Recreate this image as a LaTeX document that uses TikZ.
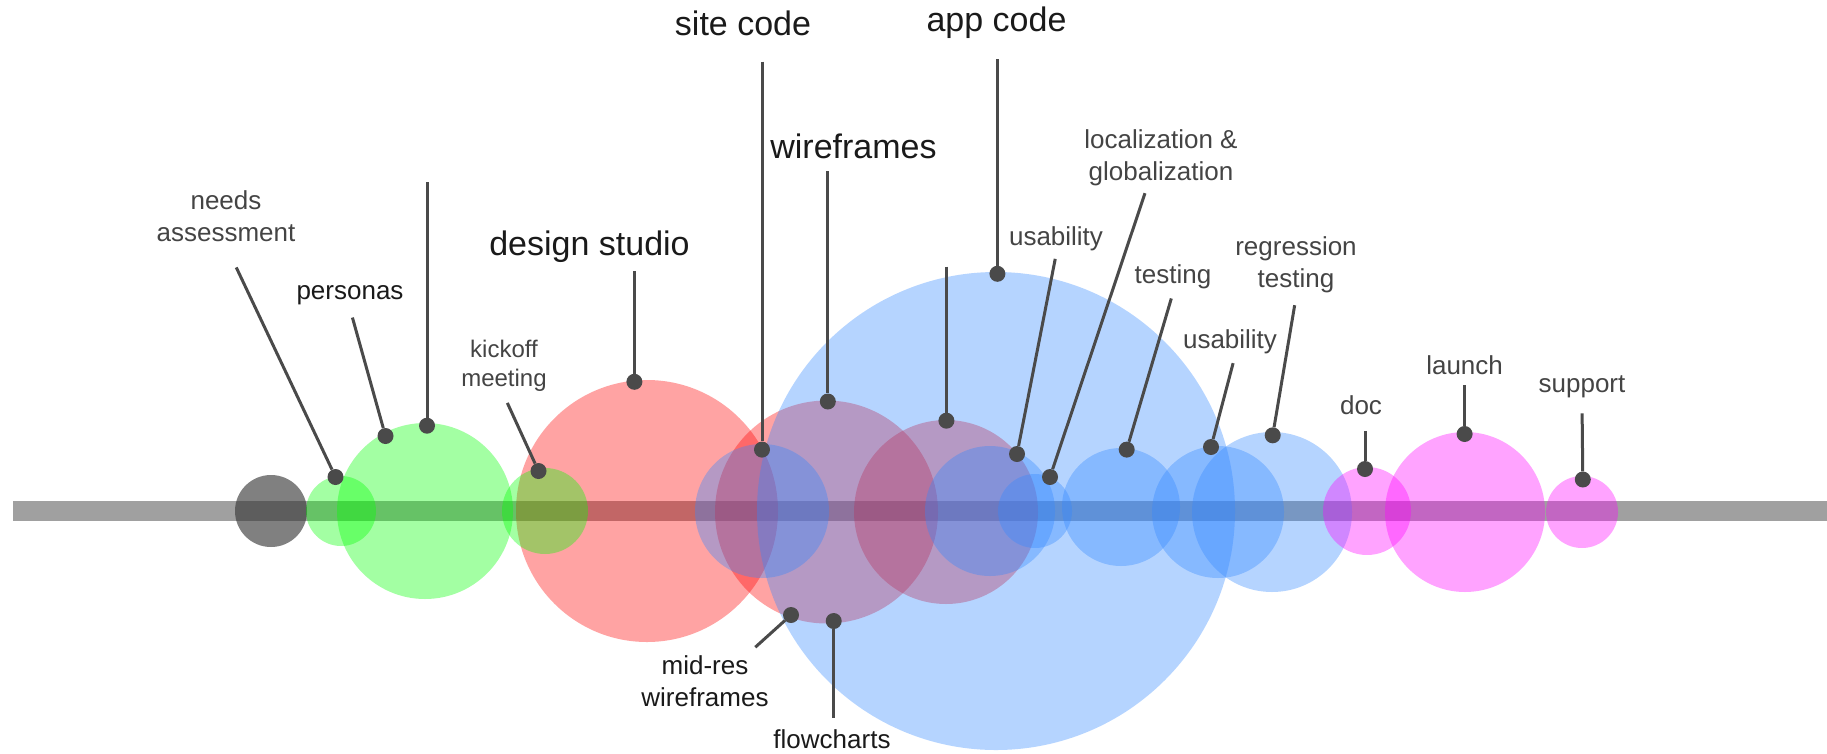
\documentclass[tikz,border=0pt]{standalone}
\usepackage{fontspec}
\setmainfont{Liberation Sans}
\definecolor{bargray}{HTML}{A0A0A0}
\definecolor{leadgray}{HTML}{4A4A4A}
\definecolor{softtext}{HTML}{444444}
\definecolor{hardtext}{HTML}{1A1A1A}
\definecolor{appblue}{RGB}{51,136,255}
\definecolor{launchpink}{RGB}{255,0,255}

\begin{document}
\begin{tikzpicture}[x=1pt,y=-1pt,
    bubble/.style={fill opacity=0.36},
    knob/.style={circle,fill=leadgray,inner sep=0pt,minimum size=16pt},
    lead/.style={draw=leadgray,line width=3pt},
    minortag/.style={font=\fontsize{26}{32}\selectfont,text=softtext,align=center,inner sep=4pt},
    majortag/.style={font=\fontsize{34}{40}\selectfont,text=hardtext,inner sep=4pt}]
   \useasboundingbox (0,0) rectangle (1827,753);
   \fill[bargray] (13,501) rectangle (1827,521);
   \begin{scope}[bubble]
    \fill[black!78,fill opacity=0.64] (271,511) circle[radius=36pt];
    \fill[green] (341,511) circle[radius=35pt];
    \fill[green] (425,511) circle[radius=88pt];
    \fill[red] (647,511) circle[radius=131pt];
    \fill[green] (545,511) circle[radius=43pt];
    \fill[red] (826.5,512) circle[radius=111.5pt];
    \fill[red] (946,512) circle[radius=92pt];
    \fill[appblue] (762,511) circle[radius=67pt];
    \fill[appblue] (996,511) circle[radius=239pt];
    \fill[appblue] (990,511) circle[radius=65pt];
    \fill[appblue] (1035,511) circle[radius=37pt];
    \fill[appblue] (1121,507) circle[radius=59pt];
    \fill[appblue] (1218,512) circle[radius=66pt];
    \fill[appblue] (1272,512) circle[radius=80pt];
    \fill[launchpink] (1367,511) circle[radius=44pt];
    \fill[launchpink] (1465,512) circle[radius=80pt];
    \fill[launchpink] (1582,512) circle[radius=36pt];
   \end{scope}

   \node[knob] (na dot) at (335.5,477) {};
   \node[knob] (pe dot) at (385.5,436) {};
   \node[knob] (gr dot) at (427,425.7) {};
   \node[knob] (ko dot) at (538.5,471) {};
   \node[knob] (ds dot) at (634.4,381.8) {};
   \node[knob] (sc dot) at (762,449.6) {};
   \node[knob] (wf dot) at (827.8,401.5) {};
   \node[knob] (ac dot) at (997.4,273.8) {};
   \node[knob] (ur dot) at (946.4,420.7) {};
   \node[knob] (u1 dot) at (1017,454) {};
   \node[knob] (lg dot) at (1050,477) {};
   \node[knob] (te dot) at (1126.7,449.6) {};
   \node[knob] (u2 dot) at (1211,447) {};
   \node[knob] (rt dot) at (1272.7,435.3) {};
   \node[knob] (dc dot) at (1365,469) {};
   \node[knob] (la dot) at (1464.6,434) {};
   \node[knob] (su dot) at (1582.8,479.5) {};
   \node[knob] (mr dot) at (791,615) {};
   \node[knob] (fc dot) at (833.7,621) {};
   \coordinate (gr top) at (427,182);
   \coordinate (ur top) at (946.4,266.6);

   \node[minortag] (na) at (226,216) {needs\\assessment};
   \node[minortag,text=hardtext] (pe) at (350,295) {personas};
   \node[majortag] (ds) at (589.5,247) {design studio};
   \node[minortag,font=\fontsize{24}{28.5}\selectfont] (ko) at (504,366) {kickoff\\meeting};
   \node[majortag] (sc) at (743,23) {site code};
   \node[majortag] (wf) at (853.5,146.5) {wireframes};
   \node[majortag] (ac) at (996.5,23) {app code};
   \node[minortag] (u1) at (1056,238.6) {usability};
   \node[minortag] (lg) at (1161,158) {localization \&\\globalization};
   \node[minortag] (te) at (1173,276.4) {testing};
   \node[minortag] (u2) at (1230,342) {usability};
   \node[minortag] (rt) at (1296,265) {regression\\testing};
   \node[minortag] (dc) at (1361,405) {doc};
   \node[minortag] (la) at (1464.6,365.5) {launch};
   \node[minortag] (su) at (1582,387) {support};
   \node[minortag,text=hardtext] (mr) at (705,681) {mid-res\\wireframes};
   \node[minortag,text=hardtext] (fc) at (832,738.7) {flowcharts};

   \draw[lead,shorten <=24pt] (na.south) -- (na dot);
   \draw[lead,shorten <=9pt] (pe.south) -- (pe dot);
   \draw[lead] (gr top) -- (gr dot);
   \draw[lead,shorten <=4pt] (ds.south -| ds dot) -- (ds dot);
   \draw[lead,shorten <=8pt] (ko.south) -- (ko dot);
   \draw[lead,shorten <=22pt] (sc.south -| sc dot) -- (sc dot);
   \draw[lead,shorten <=8pt] (wf.south -| wf dot) -- (wf dot);
   \draw[lead,shorten <=16pt] (ac.south -| ac dot) -- (ac dot);
   \draw[lead] (ur top) -- (ur dot);
   \draw[lead,shorten <=4pt] (u1.south) -- (u1 dot);
   \draw[lead,shorten <=3pt] (lg.245) -- (lg dot);
   \draw[lead,shorten <=6pt] (te.south) -- (te dot);
   \draw[lead,shorten <=5pt] (u2.285) -- (u2 dot);
   \draw[lead,shorten <=8pt] (rt.south) -- (rt dot);
   \draw[lead,shorten <=12pt] (dc.south -| dc dot) -- (dc dot);
   \draw[lead,shorten <=6pt] (la.south) -- (la dot);
   \draw[lead,shorten <=11pt] (su.south) -- (su dot);
   \draw[lead,shorten <=6pt] (mr.33) -- (mr dot);
   \draw[lead,shorten <=7pt] (fc.north -| fc dot) -- (fc dot);
\end{tikzpicture}
\end{document}
